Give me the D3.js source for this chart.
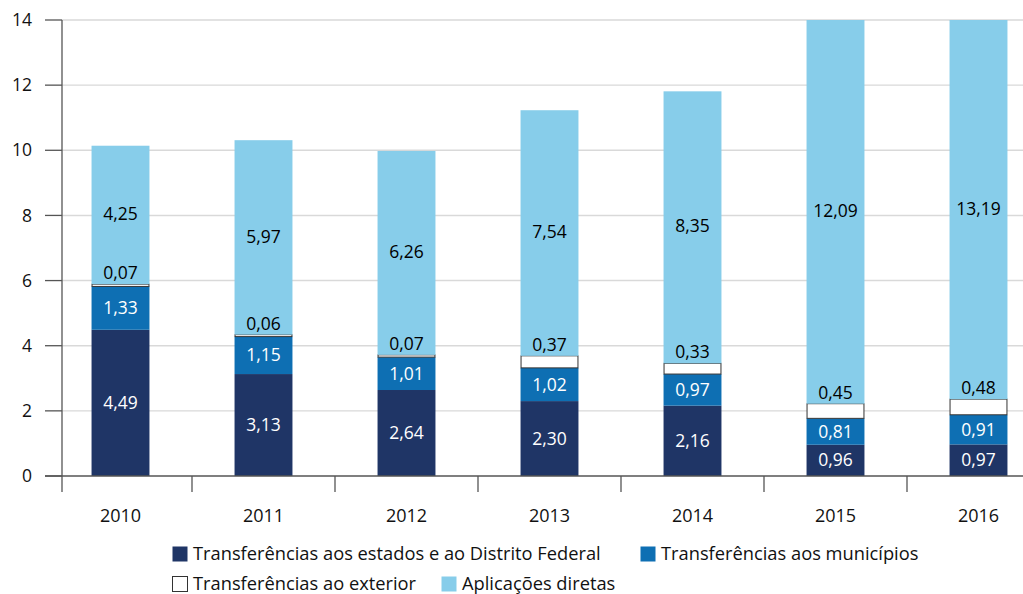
<!DOCTYPE html>
<html>
<head>
<meta charset="utf-8">
<script src="https://d3js.org/d3.v7.min.js"></script>
<style>
  body { margin: 0; background: #fff; }
  text { font-family: "Open Sans", "Noto Sans", sans-serif; }
</style>
</head>
<body>
<div id="vis"></div>
<script>
// data (bilhões)
var years = ["2010", "2011", "2012", "2013", "2014", "2015", "2016"];
var estados = [4.49, 3.13, 2.64, 2.30, 2.16, 0.96, 0.97];
var municipios = [1.33, 1.15, 1.01, 1.02, 0.97, 0.81, 0.91];
var exterior = [0.07, 0.06, 0.07, 0.37, 0.33, 0.45, 0.48];
var diretas = [4.25, 5.97, 6.26, 7.54, 8.35, 12.09, 13.19];
var yTicks = [0, 2, 4, 6, 8, 10, 12, 14];

var seriesNames = ["Transferências aos estados e ao Distrito Federal", "Transferências aos municípios",
  "Transferências ao exterior", "Aplicações diretas"];
var colors = ["#1f3566", "#0e6fb3", "#ffffff", "#87cdea"];
var textColors = ["#fff", "#fff", "#000", "#000"];

var width = 1023, height = 594;
var fmt = function(v) { return v.toFixed(2).replace(".", ","); };

var svg = d3.select("#vis").append("svg")
  .attr("width", width)
  .attr("height", height);

var axisX = 62;
var x = d3.scaleBand()
  .domain(years)
  .range([49, 1050])
  .paddingInner(0.595)
  .paddingOuter(0.2975);
var y = d3.scaleLinear()
  .domain([0, 14])
  .range([476, 20]);

// gridlines
svg.append("g").selectAll("line")
  .data(yTicks.filter(function(d) { return d > 0; }))
  .join("line")
  .attr("x1", axisX).attr("x2", width)
  .attr("y1", function(d) { return y(d); })
  .attr("y2", function(d) { return y(d); })
  .attr("stroke", "#d9d9d9")
  .attr("stroke-width", 1.4);

// stack the four series
var rows = years.map(function(yr, i) {
  return { year: yr, s0: estados[i], s1: municipios[i], s2: exterior[i], s3: diretas[i] };
});
var stack = d3.stack().keys(["s0", "s1", "s2", "s3"]);
var layers = stack(rows);
// bars are cut at the top of the axis
var yc = function(v) { return y(Math.min(v, 14)); };

var pieces = [];
layers.forEach(function(layer) {
  layer.forEach(function(p) { pieces.push({ p: p, k: layer.index }); });
});

svg.append("g").selectAll("rect")
  .data(pieces)
  .join("rect")
  .attr("x", function(d) { return x(d.p.data.year) + (d.k == 2 ? 0.5 : 0); })
  .attr("width", function(d) { return x.bandwidth() - (d.k == 2 ? 1 : 0); })
  .attr("y", function(d) { return yc(d.p[1]); })
  .attr("height", function(d) { return yc(d.p[0]) - yc(d.p[1]); })
  .attr("fill", function(d) { return colors[d.k]; })
  .attr("stroke", function(d) { return d.k == 2 ? "#333" : "none"; })
  .attr("stroke-width", 1);

// value labels, drawn on top of all bars
svg.append("g").selectAll("text")
  .data(pieces)
  .join("text")
  .attr("x", function(d) { return x(d.p.data.year) + x.bandwidth() / 2; })
  .attr("y", function(d) {
    if (d.k == 2) return yc(d.p[1]) - 11;
    if (d.k == 3) return (yc(d.p[0]) - 22 + yc(d.p[1])) / 2 + 10;
    return (yc(d.p[0]) + yc(d.p[1])) / 2;
  })
  .attr("dy", "0.35em")
  .attr("text-anchor", "middle")
  .attr("font-size", "17.5px")
  .attr("fill", function(d) { return textColors[d.k]; })
  .text(function(d) { return fmt(d.p.data["s" + d.k]); });

// y axis
svg.append("line")
  .attr("x1", axisX).attr("x2", axisX)
  .attr("y1", y(14)).attr("y2", 492)
  .attr("stroke", "#555").attr("stroke-width", 1.3);
svg.append("g").selectAll("line")
  .data(yTicks)
  .join("line")
  .attr("x1", 45).attr("x2", axisX)
  .attr("y1", function(d) { return y(d); })
  .attr("y2", function(d) { return y(d); })
  .attr("stroke", "#555").attr("stroke-width", 1.3);
svg.append("g").selectAll("text")
  .data(yTicks)
  .join("text")
  .attr("x", 32)
  .attr("y", function(d) { return y(d); })
  .attr("dy", "0.35em")
  .attr("text-anchor", "end")
  .attr("font-size", "17.5px")
  .attr("fill", "#111")
  .text(function(d) { return d; });

// x axis
svg.append("line")
  .attr("x1", 45).attr("x2", width)
  .attr("y1", y(0)).attr("y2", y(0))
  .attr("stroke", "#555").attr("stroke-width", 1.3);
svg.append("g").selectAll("line")
  .data(years.slice(1))
  .join("line")
  .attr("x1", function(d) { return x(d) - x.step() * x.paddingInner() / 2; })
  .attr("x2", function(d) { return x(d) - x.step() * x.paddingInner() / 2; })
  .attr("y1", y(0)).attr("y2", 492)
  .attr("stroke", "#555").attr("stroke-width", 1.3);
svg.append("g").selectAll("text")
  .data(years)
  .join("text")
  .attr("x", function(d) { return x(d) + x.bandwidth() / 2; })
  .attr("y", 516)
  .attr("dy", "0.35em")
  .attr("text-anchor", "middle")
  .attr("font-size", "18px")
  .attr("fill", "#111")
  .text(function(d) { return d; });

// legend
var legendPos = [[172, 554], [640, 554], [172, 584], [441, 584]];
var legend = svg.append("g").selectAll("g")
  .data(seriesNames)
  .join("g")
  .attr("transform", function(d, i) { return "translate(" + legendPos[i][0] + "," + legendPos[i][1] + ")"; });
legend.append("rect")
  .attr("x", 0.5).attr("y", -7.5)
  .attr("width", 15).attr("height", 15)
  .attr("fill", function(d, i) { return colors[i]; })
  .attr("stroke", function(d, i) { return i == 2 ? "#333" : "none"; });
legend.append("text")
  .attr("x", 21)
  .attr("dy", "0.35em")
  .attr("font-size", "18.3px")
  .attr("fill", "#111")
  .text(function(d) { return d; });
</script>
</body>
</html>
